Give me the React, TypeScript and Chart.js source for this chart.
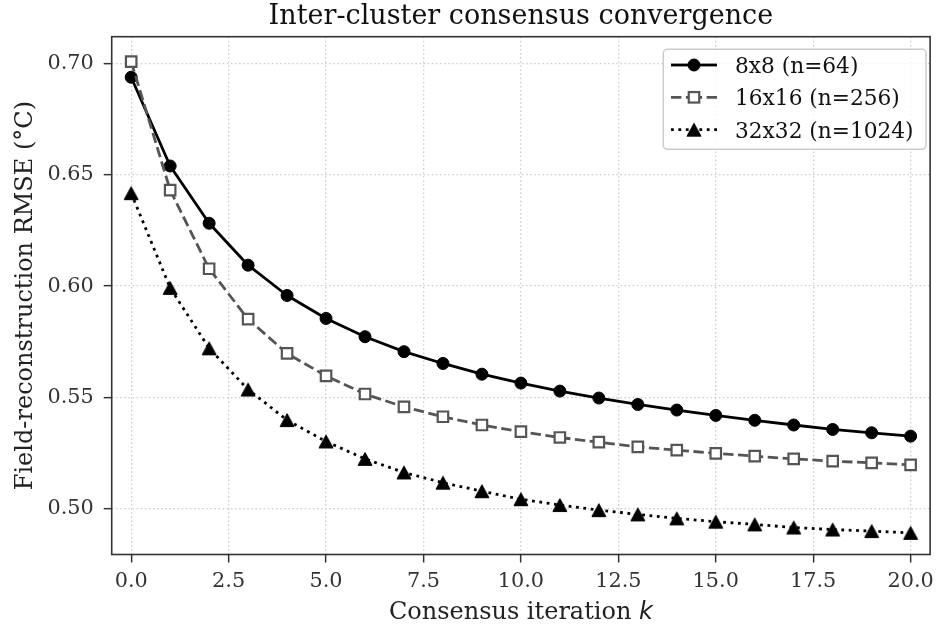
import React, { useEffect, useRef } from 'react';
import { Chart, registerables } from 'chart.js';

Chart.register(...registerables);

// Consensus iteration index k
const iterations = [0, 1, 2, 3, 4, 5, 6, 7, 8, 9, 10, 11, 12, 13, 14, 15, 16, 17, 18, 19, 20];

// Field-reconstruction RMSE (°C) per grid size
const rmse8x8 = [
  0.6937, 0.6539, 0.6282, 0.6094, 0.5958, 0.5855, 0.5773, 0.5706, 0.5653, 0.5605, 0.5565,
  0.5529, 0.5498, 0.5469, 0.5444, 0.542, 0.5398, 0.5377, 0.5357, 0.5342, 0.5327,
];
const rmse16x16 = [
  0.7007, 0.6431, 0.6078, 0.5852, 0.5698, 0.5597, 0.5516, 0.5458, 0.5414, 0.5377, 0.5347,
  0.5321, 0.53, 0.5279, 0.5264, 0.525, 0.5237, 0.5225, 0.5215, 0.5207, 0.5198,
];
const rmse32x32 = [
  0.6417, 0.5992, 0.5721, 0.5536, 0.5399, 0.5303, 0.5225, 0.5164, 0.5118, 0.508, 0.5044,
  0.5018, 0.4995, 0.4976, 0.4958, 0.4943, 0.4931, 0.4917, 0.4908, 0.4901, 0.4893,
];

const seriesLabels = ['8x8 (n=64)', '16x16 (n=256)', '32x32 (n=1024)'];
const xTickValues = [0, 2.5, 5, 7.5, 10, 12.5, 15, 17.5, 20];
const yTickValues = [0.5, 0.55, 0.6, 0.65, 0.7];

const chartTitle = 'Inter-cluster consensus convergence';
const xAxisTitle = 'Consensus iteration ';
const xAxisVar = 'k';
const yAxisTitle = 'Field-reconstruction RMSE (°C)';

const SERIF = '"DejaVu Serif", "Liberation Serif", serif';
const SANS = '"DejaVu Sans", sans-serif';
const W = 941;
const H = 628;
const AXIS_COLOR = '#333333';
const LABEL_SIZE = 24;

function makeTriangle(): HTMLCanvasElement {
  const c = document.createElement('canvas');
  c.width = 18;
  c.height = 18;
  const g = c.getContext('2d')!;
  g.beginPath();
  g.moveTo(9, 2.6);
  g.lineTo(2, 15.4);
  g.lineTo(16, 15.4);
  g.closePath();
  g.fillStyle = '#000';
  g.fill();
  g.lineWidth = 1;
  g.lineJoin = 'miter';
  g.strokeStyle = '#000';
  g.stroke();
  return c;
}

export default function App() {
  const canvasRef = useRef<HTMLCanvasElement | null>(null);

  useEffect(() => {
    const canvas = canvasRef.current;
    if (!canvas) return;
    const tri = makeTriangle();

    const toPoints = (ys: number[]) => iterations.map((k, i) => ({ x: k, y: ys[i] }));

    const seriesStyles = [
      { dash: [] as number[], color: '#000000', marker: 'circle' },
      { dash: [10.4, 4.5], color: '#555555', marker: 'square' },
      { dash: [2.8, 4.6], color: '#000000', marker: 'triangle' },
    ];

    const background = {
      id: 'background',
      beforeDraw(chart: any) {
        const ctx = chart.ctx;
        ctx.save();
        ctx.fillStyle = '#ffffff';
        ctx.fillRect(0, 0, chart.width, chart.height);
        ctx.restore();
      },
    };

    const frame = {
      id: 'frame',
      afterDatasetsDraw(chart: any) {
        const { ctx, chartArea } = chart;
        ctx.save();
        ctx.strokeStyle = AXIS_COLOR;
        ctx.lineWidth = 1.6;
        ctx.setLineDash([]);
        ctx.strokeRect(
          chartArea.left,
          chartArea.top,
          chartArea.right - chartArea.left,
          chartArea.bottom - chartArea.top,
        );
        ctx.restore();
      },
    };

    const annotations = {
      id: 'annotations',
      afterDraw(chart: any) {
        const { ctx, chartArea } = chart;
        const cx = (chartArea.left + chartArea.right) / 2;
        const cy = (chartArea.top + chartArea.bottom) / 2;
        ctx.save();

        // title
        ctx.fillStyle = '#111111';
        ctx.font = `27px ${SERIF}`;
        ctx.textAlign = 'center';
        ctx.textBaseline = 'alphabetic';
        ctx.fillText(chartTitle, cx, 23.5);

        // x axis title with italic variable
        ctx.fillStyle = '#222222';
        ctx.font = `${LABEL_SIZE}px ${SERIF}`;
        const w1 = ctx.measureText(xAxisTitle).width;
        ctx.font = `italic ${LABEL_SIZE}px ${SANS}`;
        const w2 = ctx.measureText(xAxisVar).width;
        const x0 = cx - (w1 + w2) / 2;
        ctx.textAlign = 'left';
        ctx.font = `${LABEL_SIZE}px ${SERIF}`;
        ctx.fillText(xAxisTitle, x0, 619.3);
        ctx.font = `italic ${LABEL_SIZE}px ${SANS}`;
        ctx.fillText(xAxisVar, x0 + w1, 619.3);

        // y axis title
        ctx.save();
        ctx.translate(31.5, cy);
        ctx.rotate(-Math.PI / 2);
        ctx.font = `${LABEL_SIZE}px ${SERIF}`;
        ctx.textAlign = 'center';
        ctx.fillText(yAxisTitle, 0, 0);
        ctx.restore();

        // legend
        const bx = 663.3;
        const by = 49.3;
        const bw = 262.7;
        const bh = 100;
        ctx.beginPath();
        ctx.roundRect(bx, by, bw, bh, 4);
        ctx.fillStyle = 'rgba(255,255,255,0.8)';
        ctx.fill();
        ctx.strokeStyle = '#cccccc';
        ctx.lineWidth = 1.5;
        ctx.stroke();

        const rows = [65, 97.3, 129.7];
        const lx1 = 671;
        const lx2 = 717;
        const mx = 694;
        seriesLabels.forEach((label, i) => {
          const st = seriesStyles[i];
          const y = rows[i];
          ctx.strokeStyle = st.color;
          ctx.lineWidth = 2.8;
          ctx.lineCap = 'butt';
          ctx.setLineDash(st.dash);
          ctx.beginPath();
          ctx.moveTo(lx1, y);
          ctx.lineTo(mx, y);
          ctx.stroke();
          ctx.beginPath();
          ctx.moveTo(lx2, y);
          ctx.lineTo(mx, y);
          ctx.stroke();
          ctx.setLineDash([]);
          if (st.marker === 'circle') {
            ctx.beginPath();
            ctx.arc(mx, y, 6, 0, Math.PI * 2);
            ctx.fillStyle = '#000';
            ctx.fill();
            ctx.lineWidth = 1;
            ctx.strokeStyle = '#000';
            ctx.stroke();
          } else if (st.marker === 'square') {
            ctx.fillStyle = '#ffffff';
            ctx.fillRect(mx - 5.25, y - 5.25, 10.5, 10.5);
            ctx.lineWidth = 2.2;
            ctx.strokeStyle = '#555555';
            ctx.strokeRect(mx - 5.25, y - 5.25, 10.5, 10.5);
          } else {
            ctx.drawImage(tri, mx - tri.width / 2, y - tri.height / 2);
          }
          ctx.fillStyle = '#111111';
          ctx.font = `21.7px ${SERIF}`;
          ctx.textAlign = 'left';
          ctx.textBaseline = 'middle';
          ctx.fillText(label, 735, y + 2.5);
        });

        ctx.restore();
      },
    };

    const tickFont = { family: SERIF, size: 20.8 };

    const chart = new Chart(canvas, {
      type: 'line',
      data: {
        datasets: [
          {
            label: seriesLabels[0],
            data: toPoints(rmse8x8),
            borderColor: '#000000',
            borderWidth: 2.8,
            borderJoinStyle: 'round',
            pointStyle: 'circle',
            pointRadius: 6,
            pointBackgroundColor: '#000000',
            pointBorderColor: '#000000',
            pointBorderWidth: 1,
            tension: 0,
            fill: false,
            order: 2,
          },
          {
            label: seriesLabels[1],
            data: toPoints(rmse16x16),
            borderColor: '#555555',
            borderWidth: 2.8,
            borderDash: [10.4, 4.5],
            borderJoinStyle: 'round',
            pointStyle: 'rect',
            pointRadius: 7.42,
            pointBackgroundColor: '#ffffff',
            pointBorderColor: '#555555',
            pointBorderWidth: 2.2,
            tension: 0,
            fill: false,
            order: 1,
          },
          {
            label: seriesLabels[2],
            data: toPoints(rmse32x32),
            borderColor: '#000000',
            borderWidth: 2.8,
            borderDash: [2.8, 4.6],
            borderJoinStyle: 'round',
            pointStyle: tri,
            pointRadius: 7,
            tension: 0,
            fill: false,
            order: 0,
          },
        ],
      },
      options: {
        responsive: false,
        animation: false,
        devicePixelRatio: 1,
        events: [],
        layout: { padding: { left: 0, top: 36.7, right: 6, bottom: 0 } },
        plugins: {
          legend: { display: false },
          title: { display: false },
          tooltip: { enabled: false },
        },
        scales: {
          x: {
            type: 'linear',
            min: -0.5,
            max: 20.5,
            afterBuildTicks: (scale: any) => {
              scale.ticks = xTickValues.map((v) => ({ value: v }));
            },
            afterFit: (scale: any) => {
              scale.height = 73.5;
            },
            ticks: {
              callback: (v: any) => Number(v).toFixed(1),
              font: tickFont,
              color: AXIS_COLOR,
              padding: 7,
              maxRotation: 0,
              autoSkip: false,
            },
            grid: {
              color: '#cccccc',
              lineWidth: 1.3,
              tickLength: 8,
              tickColor: AXIS_COLOR,
              tickWidth: 1.5,
              tickBorderDash: [],
            },
            border: { display: false, dash: [1.5, 2.6] },
          },
          y: {
            type: 'linear',
            min: 0.4796,
            max: 0.7119,
            afterBuildTicks: (scale: any) => {
              scale.ticks = yTickValues.map((v) => ({ value: v }));
            },
            afterFit: (scale: any) => {
              scale.width = 111.7;
            },
            ticks: {
              callback: (v: any) => Number(v).toFixed(2),
              font: tickFont,
              color: AXIS_COLOR,
              padding: 10,
              autoSkip: false,
            },
            grid: {
              color: '#cccccc',
              lineWidth: 1.3,
              tickLength: 8,
              tickColor: AXIS_COLOR,
              tickWidth: 1.5,
              tickBorderDash: [],
            },
            border: { display: false, dash: [1.5, 2.6] },
          },
        },
      },
      plugins: [background, frame, annotations],
    } as any);

    return () => chart.destroy();
  }, []);

  return (
    <div style={{ position: 'absolute', left: 0, top: 0, width: W, height: H, background: '#fff' }}>
      <canvas ref={canvasRef} width={W} height={H} style={{ display: 'block', width: W, height: H }} />
    </div>
  );
}
